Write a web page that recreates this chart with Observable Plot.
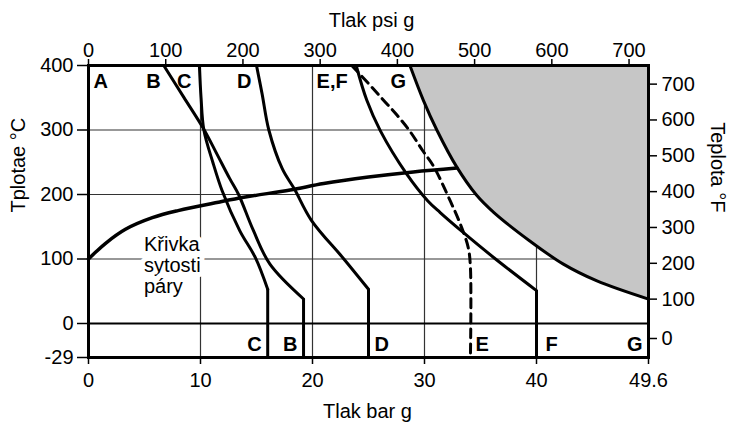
<!DOCTYPE html>
<html>
<head>
<meta charset="utf-8">
<script src="https://cdn.jsdelivr.net/npm/d3@7"></script>
<script src="https://cdn.jsdelivr.net/npm/@observablehq/plot@0.6"></script>
<style>
  html, body { margin: 0; padding: 0; background: #fff; }
</style>
</head>
<body>
<div id="chart"></div>
<script>
// ---------- data (pressure in bar g, temperature in °C) ----------
const barTicks = [0, 10, 20, 30, 40, 50];
const barTickLabels = ["0", "10", "20", "30", "40", "49.6"];
const psiTicks = [0, 100, 200, 300, 400, 500, 600, 700];
const celsiusTicks = [-29, 0, 100, 200, 300, 400];
const fahrenheitTicks = [0, 100, 200, 300, 400, 500, 600, 700];
const barGrid = [10, 20, 30, 40];
const celsiusGrid = [100, 200, 300];
const tMin = -29, tMax = 400, pMax = 50;
const PSI_PER_BAR = 14.5038;

const curveB = [[6.72, 400], [8.5, 351], [10.27, 302], [11.4, 265], [12.6, 225], [13.4, 200], [14.7, 145], [16.2, 92], [19.2, 38]];
const curveC = [[9.9, 400], [10.05, 350], [10.3, 300], [11.1, 250], [11.95, 205], [13.5, 144], [14.9, 102], [16.0, 53]];
const curveD = [[15.0, 400], [15.5, 356], [16.1, 300], [17.3, 240], [18.4, 208], [19.9, 160], [22.8, 100], [25.0, 53]];
const curveE = [[23.5, 400], [24.9, 374], [26.3, 347], [27.5, 324], [28.7, 298], [29.8, 269], [30.8, 244], [32.3, 190], [33.2, 154], [33.9, 118], [34.1, 87]];
const curveF = [[23.9, 400], [24.85, 346], [26.05, 299], [28.4, 232], [30.3, 190], [31.4, 172], [33.4, 142], [36.2, 102], [40.0, 51]];
const curveG = [[28.7, 400], [29.9, 346], [31.1, 300], [32.9, 242], [34.6, 200], [36.2, 172], [39.4, 128], [42.4, 92], [45.4, 66], [50, 37.8]];
const saturation = [[0, 100], [0.6, 110], [1.5, 124], [3.3, 146], [5.7, 164], [8, 175], [11.6, 188], [14, 196], [18, 207], [21, 217], [25, 227], [29, 235], [32.9, 241]];

const noteText = "Křivka\nsytosti\npáry";
const noteAt = [4.95, 136.5];
const topLabels = ["A", "B", "C", "D", "E,F", "G"];
const bottomLabels = ["C", "B", "D", "E", "F", "G"];
const titleTop = "Tlak psi g";
const titleBottom = "Tlak bar g";
const titleLeft = "Tplotae °C";
const titleRight = "Teplota °F";

// ---------- chart ----------
const font = "'Liberation Sans', Arial, Helvetica, sans-serif";
const fToC = f => (f - 32) * 5 / 9;
const last = a => a[a.length - 1];
const X = d => d[0], Y = d => d[1];

function letter(text, x, y, anchor, dx, lineAnchor, dy) {
  return Plot.text([[x, y]], {x: X, y: Y, text: () => text, textAnchor: anchor, lineAnchor,
    dx, dy, fontSize: 20, fontWeight: "bold", fill: "black"});
}
function title(text, frameAnchor, opts) {
  return Plot.text([text], {frameAnchor, text: d => d, fontSize: 20, fill: "black", ...opts});
}

const bends = [last(curveB), last(curveC), last(curveD), last(curveF)];
const lineE = [...curveE, [last(curveE)[0], tMin]];

const chart = Plot.plot({
  width: 730,
  height: 422,
  marginLeft: 88,
  marginRight: 82,
  marginTop: 65,
  marginBottom: 65,
  style: {fontFamily: font, fontSize: "20px", background: "white", color: "black", overflow: "visible"},
  x: {type: "linear", domain: [0, pMax]},
  y: {type: "linear", domain: [tMin, fToC(0), 0, tMax], range: [357, 338, 323, 65]},
  marks: [
    Plot.ruleX(barGrid, {stroke: "#333", strokeWidth: 1.2}),
    Plot.ruleY(celsiusGrid, {stroke: "#333", strokeWidth: 1.2}),
    Plot.areaX(curveG, {y: Y, x1: X, x2: () => pMax, fill: "#c6c6c6", curve: "catmull-rom"}),
    Plot.text([noteAt], {x: X, y: Y, text: () => noteText, textAnchor: "start", lineAnchor: "top",
      lineHeight: 1.07, fontSize: 20, fill: "black", stroke: "white", strokeWidth: 10}),
    Plot.ruleY([0], {stroke: "black", strokeWidth: 2}),
    Plot.line(curveB, {x: X, y: Y, curve: "catmull-rom", stroke: "black", strokeWidth: 3}),
    Plot.line(curveC, {x: X, y: Y, curve: "catmull-rom", stroke: "black", strokeWidth: 3}),
    Plot.line(curveD, {x: X, y: Y, curve: "catmull-rom", stroke: "black", strokeWidth: 3}),
    Plot.line(curveF, {x: X, y: Y, curve: "catmull-rom", stroke: "black", strokeWidth: 3}),
    Plot.line(lineE, {x: X, y: Y, curve: "catmull-rom", stroke: "black", strokeWidth: 3, strokeDasharray: "9,6"}),
    Plot.line(curveG, {x: X, y: Y, curve: "catmull-rom", stroke: "black", strokeWidth: 3}),
    Plot.ruleX(bends, {x: X, y1: () => tMin, y2: Y, stroke: "black", strokeWidth: 3}),
    Plot.line(saturation, {x: X, y: Y, curve: "catmull-rom", stroke: "black", strokeWidth: 3.5}),
    Plot.frame({stroke: "black", strokeWidth: 3}),
    Plot.axisX({anchor: "bottom", ticks: barTicks, tickFormat: d => barTickLabels[barTicks.indexOf(d)],
      tickSize: 7, tickPadding: 8, label: null, strokeWidth: 1.5}),
    Plot.axisX({anchor: "top", ticks: psiTicks.map(p => p / PSI_PER_BAR),
      tickFormat: d => String(Math.round(d * PSI_PER_BAR)), tickSize: 7, tickPadding: 2, label: null, strokeWidth: 1.5}),
    Plot.axisY({anchor: "left", ticks: celsiusTicks, tickFormat: d => String(d),
      tickSize: 11, tickPadding: 4, label: null, strokeWidth: 1.5}),
    Plot.axisY({anchor: "right", ticks: fahrenheitTicks.map(fToC),
      tickFormat: d => String(Math.round(d * 9 / 5 + 32)), tickSize: 8, tickPadding: 5, label: null, strokeWidth: 1.5}),
    // curve letters at the top
    letter(topLabels[0], 0, tMax, "start", 5, "top", 8),
    letter(topLabels[1], curveB[0][0], tMax, "end", -3, "top", 8),
    letter(topLabels[2], curveC[0][0], tMax, "end", -8, "top", 8),
    letter(topLabels[3], curveD[0][0], tMax, "end", -5, "top", 8),
    letter(topLabels[4], curveE[0][0], tMax, "end", -4, "top", 8),
    letter(topLabels[5], curveG[0][0], tMax, "end", -4, "top", 8),
    // curve letters at the bottom
    letter(bottomLabels[0], last(curveC)[0], tMin, "end", -6, "bottom", -7),
    letter(bottomLabels[1], last(curveB)[0], tMin, "end", -6, "bottom", -7),
    letter(bottomLabels[2], last(curveD)[0], tMin, "start", 6, "bottom", -7),
    letter(bottomLabels[3], last(curveE)[0], tMin, "start", 5, "bottom", -7),
    letter(bottomLabels[4], last(curveF)[0], tMin, "start", 9, "bottom", -7),
    letter(bottomLabels[5], pMax, tMin, "end", -6, "bottom", -7),
    // axis titles
    title(titleTop, "top", {lineAnchor: "bottom", dy: -39, dx: 3}),
    title(titleBottom, "bottom", {lineAnchor: "bottom", dy: 60, dx: -1}),
    title(titleLeft, "left", {rotate: -90, dx: -70, dy: 1}),
    title(titleRight, "right", {rotate: 90, dx: 69, dy: 1})
  ]
});
document.getElementById("chart").appendChild(chart);
</script>
</body>
</html>
